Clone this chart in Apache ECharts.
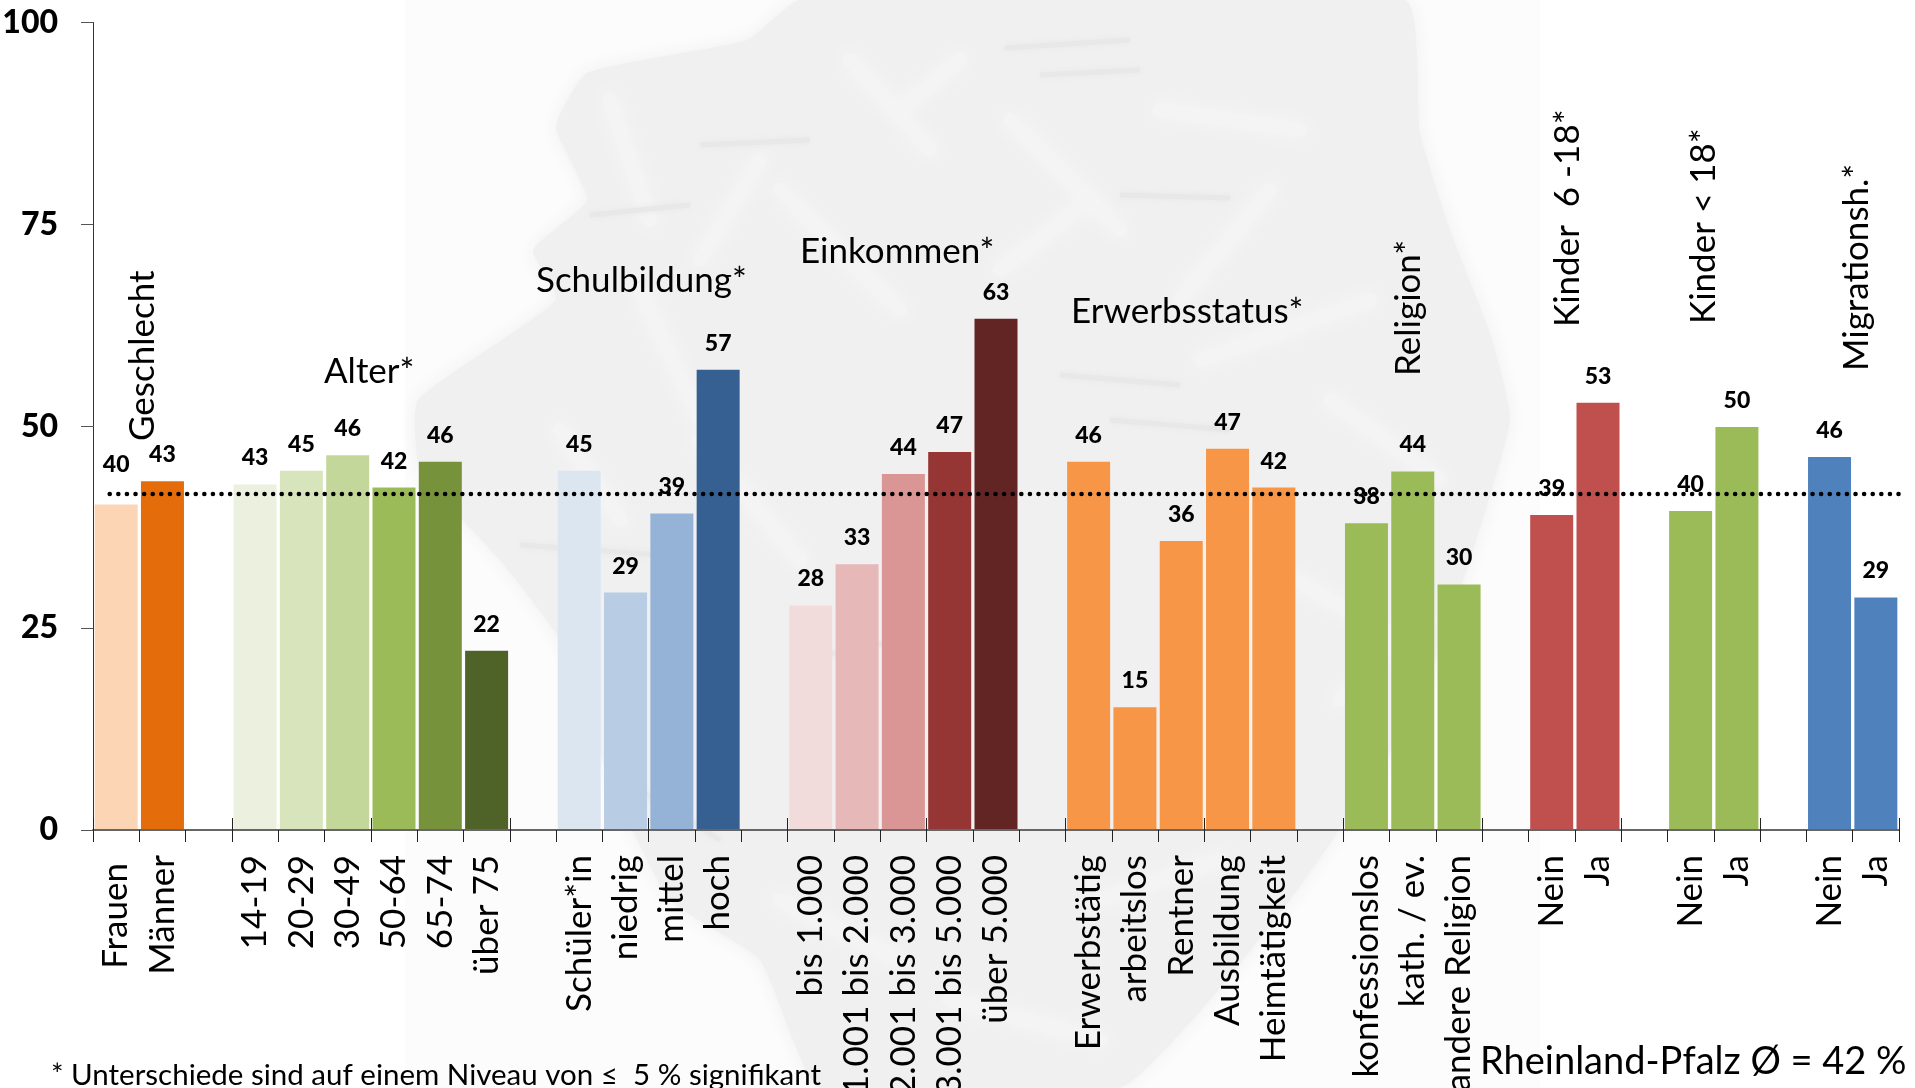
<!DOCTYPE html>
<html>
<head>
<meta charset="utf-8">
<title>Rheinland-Pfalz</title>
<style>
  html, body { margin: 0; padding: 0; background: #fff; }
  #main { width: 1915px; height: 1088px; }
</style>
<script src="https://cdn.jsdelivr.net/npm/echarts@6/dist/echarts.min.js"></script>
</head>
<body>
<div id="main"></div>
<script>
// leere Kategorien sind die Abstaende zwischen den Gruppen
var categories = ['Frauen', 'Männer', '',
  '14-19', '20-29', '30-49', '50-64', '65-74', 'über 75', '',
  'Schüler*in', 'niedrig', 'mittel', 'hoch', '',
  'bis 1.000', '1.001 bis 2.000', '2.001 bis 3.000', '3.001 bis 5.000', 'über 5.000', '',
  'Erwerbstätig', 'arbeitslos', 'Rentner', 'Ausbildung', 'Heimtätigkeit', '',
  'konfessionslos', 'kath. / ev.', 'andere Religion', '',
  'Nein', 'Ja', '',
  'Nein', 'Ja', '',
  'Nein', 'Ja'];

var values = [40.3, 43.2, null,
  42.8, 44.5, 46.4, 42.4, 45.6, 22.2, null,
  44.5, 29.4, 39.2, 57, null,
  27.8, 32.9, 44.1, 46.8, 63.3, null,
  45.6, 15.2, 35.8, 47.2, 42.4, null,
  38, 44.4, 30.4, null,
  39, 52.9, null,
  39.5, 49.9, null,
  46.2, 28.8];

var barColors = ['#FCD5B5', '#E46C0A', null,
  '#EBF1DE', '#D8E4BC', '#C4D79B', '#9BBB59', '#76933C', '#4F6228', null,
  '#DCE6F1', '#B8CCE4', '#95B3D7', '#366092', null,
  '#F2DCDB', '#E6B8B7', '#DA9694', '#963634', '#632523', null,
  '#F79646', '#F79646', '#F79646', '#F79646', '#F79646', null,
  '#9BBB59', '#9BBB59', '#9BBB59', null,
  '#C0504D', '#C0504D', null,
  '#9BBB59', '#9BBB59', null,
  '#4F81BD', '#4F81BD'];

var yTicks = [0, 25, 50, 75, 100];
var average = 41.6;

;(function () {
  var myChart = echarts.init(document.getElementById('main'), null, { renderer: 'canvas' });
  var FONT = 'Lato';

  var barData = values.map(function (v, i) {
    var item = { value: v, itemStyle: { color: barColors[i] } };
    // Frauen steht im Original etwas hoeher
    if (i === 0) item.label = { distance: 28 };
    return item;
  });

  var categoryData = categories.map(function (c, i) {
    return i === 0 ? { value: c, textStyle: { padding: [6, 8, 0, 0] } } : c;
  });

  function groupTitle(text, x, y, rotated) {
    return {
      type: 'text',
      x: x,
      y: y,
      rotation: rotated ? Math.PI / 2 : 0,
      z: 20,
      style: {
        text: text,
        fill: '#000',
        font: '35px ' + FONT,
        textAlign: 'left',
        textVerticalAlign: 'middle'
      }
    };
  }

  // Wasserzeichen: dunklere Schlieren und helle Flecken
  var bgStrokes = [
    [[1005, 48], [1130, 40]], [[1040, 75], [1140, 70]], [[700, 145], [810, 140]],
    [[590, 215], [690, 205]], [[1120, 195], [1230, 198]], [[1060, 375], [1180, 385]],
    [[520, 545], [660, 555]], [[800, 660], [900, 640]], [[1110, 420], [1230, 430]],
    [[640, 790], [720, 840]]
  ];
  var bgSpots = [
    [[850, 60], [930, 150]], [[900, 110], [960, 60]], [[760, 160], [700, 260]], [[1010, 120], [1120, 230]],
    [[1160, 110], [1300, 130]], [[1270, 190], [1180, 300]], [[610, 100], [650, 220]], [[1200, 360], [1370, 300]],
    [[780, 190], [900, 310]], [[640, 290], [700, 420]], [[1330, 400], [1440, 480]], [[1000, 270], [1090, 200]],
    [[560, 430], [620, 520]], [[1260, 560], [1400, 640]], [[1340, 700], [1420, 620]], [[780, 900], [900, 960]],
    [[1100, 900], [1220, 860]], [[950, 1000], [1100, 1040]], [[700, 440], [800, 560]]
  ];

  var background = [
    { type: 'rect', z: -2, shape: { x: 405, y: 0, width: 1135, height: 1088 }, style: { fill: '#fdfcfd' } },
    {
      type: 'polygon', z: -1,
      shape: {
        smooth: 0.15,
        points: [[800, 0], [1405, 0], [1420, 133], [1451, 233], [1490, 333], [1510, 420], [1470, 560],
          [1420, 700], [1360, 800], [1290, 900], [1210, 1000], [1120, 1088], [820, 1088], [760, 960],
          [670, 900], [610, 780], [560, 640], [500, 560], [420, 470], [418, 400], [556, 300], [533, 250],
          [587, 200], [556, 127], [587, 73], [747, 40]]
      },
      style: { fill: '#f0f0f0', shadowBlur: 18, shadowColor: '#f0f0f0' }
    }
  ];
  bgSpots.forEach(function (pts) {
    background.push({
      type: 'polyline', z: -1, shape: { points: pts },
      style: { stroke: '#f4f4f4', lineWidth: 14, lineCap: 'round', fill: 'none', shadowBlur: 16, shadowColor: '#f6f6f6' }
    });
  });
  bgStrokes.forEach(function (pts) {
    background.push({
      type: 'polyline', z: -1, shape: { points: pts },
      style: { stroke: '#e8e8e8', lineWidth: 5, fill: 'none', shadowBlur: 6, shadowColor: '#e8e8e8' }
    });
  });

  var texts = [
    groupTitle('Geschlecht', 143, 441, true),
    groupTitle('Alter*', 324, 372, false),
    groupTitle('Schulbildung*', 536, 281, false),
    groupTitle('Einkommen*', 800, 252, false),
    groupTitle('Erwerbsstatus*', 1071, 312, false),
    groupTitle('Religion*', 1409, 376, true),
    groupTitle('Kinder  6 -18*', 1568, 327, true),
    groupTitle('Kinder < 18*', 1704, 324, true),
    groupTitle('Migrationsh.*', 1857, 371, true),
    {
      type: 'text', x: 51, y: 1075, z: 20,
      style: { text: '* Unterschiede sind auf einem Niveau von ≤  5 % signifikant', fill: '#000', font: '29.5px ' + FONT, textAlign: 'left', textVerticalAlign: 'middle' }
    },
    {
      type: 'text', x: 1480, y: 1062, z: 20,
      style: { text: 'Rheinland-Pfalz Ø = 42 %', fill: '#000', font: '38px ' + FONT, textAlign: 'left', textVerticalAlign: 'middle' }
    }
  ];

  var option = {
    animation: false,
    backgroundColor: '#fff',
    grid: { left: 93, right: 16, top: 22.5, bottom: 258, containLabel: false, outerBoundsMode: 'none' },
    xAxis: [
      {
        type: 'category',
        position: 'bottom',
        data: categoryData,
        z: 5,
        axisLine: { show: true, lineStyle: { color: '#666', width: 2 } },
        axisTick: { show: true, alignWithLabel: false, length: 12, lineStyle: { color: '#222', width: 1 } },
        axisLabel: {
          interval: 0, rotate: 90, margin: 25, color: '#000', padding: [6, 0, 0, 0],
          fontFamily: FONT, fontSize: 35, hideOverlap: false
        }
      },
      {
        // zweite Achse nur fuer die Striche nach innen
        type: 'category',
        position: 'bottom',
        data: categories,
        z: 5,
        axisLine: { show: false },
        axisTick: { show: true, inside: true, length: 12, lineStyle: { color: '#222', width: 1 } },
        axisLabel: { show: false }
      },
      { type: 'value', show: false, position: 'bottom', min: 0, max: categories.length }
    ],
    yAxis: {
      type: 'value',
      min: 0,
      max: 100,
      interval: 25,
      splitLine: { show: false },
      axisLine: { show: true, lineStyle: { color: '#333', width: 1 } },
      axisTick: { show: true, length: 12, lineStyle: { color: '#555', width: 1 } },
      axisLabel: {
        margin: 35, color: '#000', fontFamily: FONT, fontWeight: 900, fontSize: 32,
        formatter: function (v) { return yTicks.indexOf(v) >= 0 ? v : ''; }
      }
    },
    series: [
      {
        type: 'bar',
        data: barData,
        barWidth: 43,
        z: 2,
        label: {
          show: true,
          position: 'top',
          distance: 15,
          color: '#000',
          fontFamily: FONT,
          fontWeight: 900,
          fontSize: 23,
          formatter: function (p) { return Math.round(p.value); }
        }
      },
      {
        type: 'line',
        xAxisIndex: 2,
        data: [[0.36, average], [categories.length, average]],
        showSymbol: false,
        silent: true,
        z: 4,
        lineStyle: { color: '#000', width: 4.5, type: [0.1, 8.5], cap: 'round' }
      }
    ],
    graphic: background.concat(texts)
  };

  myChart.setOption(option);
})();
</script>
</body>
</html>
